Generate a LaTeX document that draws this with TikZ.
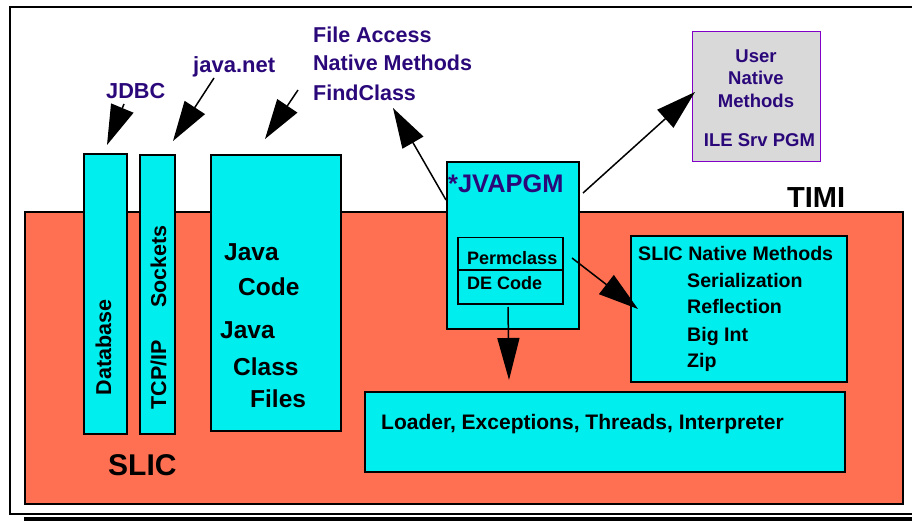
\documentclass[tikz,border=0pt]{standalone}
\usepackage{fontspec}
\setmainfont{Liberation Sans}
\usetikzlibrary{arrows.meta}
\definecolor{salmon}{RGB}{255,112,82}
\definecolor{cyanbox}{RGB}{0,238,238}
\definecolor{indigo}{RGB}{42,8,122}
\definecolor{violetb}{RGB}{128,0,200}
\definecolor{grayfill}{RGB}{217,217,217}
\newcommand{\fs}[1]{\fontsize{#1}{#1}\selectfont\bfseries}
\begin{document}
\begin{tikzpicture}[x=1pt,y=-1pt,
  cbox/.style={draw=black,line width=2pt,fill=cyanbox,rectangle,inner sep=0pt,anchor=north west},
  lbl/.style={inner sep=0pt,anchor=base west,text=indigo},
  blk/.style={inner sep=0pt,anchor=base west,text=black},
  arr/.style={line width=1.5pt,-{Triangle[length=40pt,width=24pt]}},
]
\useasboundingbox (0,0) rectangle (912,521);
% outer frame
\draw[line width=2pt] (912,7) -- (10,7) -- (10,514) -- (912,514);
\draw[line width=4pt] (24,519) -- (912,519);
% TIMI / SLIC area
\node[draw=black,line width=2pt,fill=salmon,inner sep=0pt,anchor=north west,
  minimum width=878pt,minimum height=292pt] (timi) at (24,211) {};
% columns
\node[cbox,minimum width=43pt,minimum height=280pt] (db) at (83,153) {};
\node[cbox,minimum width=35pt,minimum height=279pt] (tcp) at (139,154) {};
\node[cbox,minimum width=130pt,minimum height=276pt] (java) at (210,154) {};
\node[cbox,minimum width=132pt,minimum height=167pt] (jva) at (446,161) {};
\node[draw=black,line width=1.5pt,inner sep=0pt,anchor=north west,
  minimum width=105pt,minimum height=32pt] (perm) at (457,237) {};
\node[draw=black,line width=1.5pt,inner sep=0pt,anchor=north west,
  minimum width=105pt,minimum height=34pt] (de) at (457,269) {};
\node[cbox,minimum width=216pt,minimum height=146pt] (snm) at (630,235) {};
\node[cbox,minimum width=480pt,minimum height=80pt] (ldr) at (364,391) {};
\node[draw=violetb,line width=1.2pt,fill=grayfill,inner sep=0pt,anchor=north west,
  minimum width=128pt,minimum height=130pt] (user) at (692,31) {};
% texts
\node[rotate=90,inner sep=0pt,font=\fs{21.5}] (tdb) at (103.5,347.5) {Database};
\node[rotate=90,inner sep=0pt,font=\fs{21.5}] (ttcp) at (158.5,375) {TCP/IP};
\node[rotate=90,inner sep=0pt,font=\fs{21.5}] (tsock) at (158.5,266.5) {Sockets};
\node[blk,font=\fs{24.5}] (j1) at (224,260) {Java};
\node[blk,font=\fs{24.5}] (j2) at (238,295) {Code};
\node[blk,font=\fs{24.5}] (j3) at (220,338) {Java};
\node[blk,font=\fs{24.5}] (j4) at (233,375) {Class};
\node[blk,font=\fs{24.5}] (j5) at (250,407) {Files};
\node[lbl,font=\fs{21.7}] (jdbc) at (106,99) {JDBC};
\node[lbl,font=\fs{22}] (jnet) at (193,73) {java.net};
\node[lbl,font=\fs{21.5}] (fa) at (313,43) {File Access};
\node[lbl,font=\fs{21.5}] (nm) at (313,71) {Native Methods};
\node[lbl,font=\fs{21.5}] (fc) at (313,101) {FindClass};
\node[lbl,font=\fs{25.4}] (tjva) at (448,193) {*JVAPGM};
\node[blk,font=\fs{18}] (tperm) at (467,264) {Permclass};
\node[blk,font=\fs{18}] (tde) at (467,289) {DE Code};
\node[lbl,anchor=base,font=\fs{18.5}] (u1) at (756,63) {User};
\node[lbl,anchor=base,font=\fs{18.5}] (u2) at (756,85) {Native};
\node[lbl,anchor=base,font=\fs{18.5}] (u3) at (756,108) {Methods};
\node[lbl,anchor=base,font=\fs{18.5}] (u4) at (759.5,147) {ILE Srv PGM};
\node[blk,font=\fs{29}] (ttimi) at (787,208) {TIMI};
\node[blk,font=\fs{19.6}] (s0) at (638,261) {SLIC Native Methods};
\node[blk,font=\fs{19.6}] (s1) at (687,287) {Serialization};
\node[blk,font=\fs{19.6}] (s2) at (687,313) {Reflection};
\node[blk,font=\fs{19.6}] (s3) at (687,341) {Big Int};
\node[blk,font=\fs{19.6}] (s4) at (687,367) {Zip};
\node[blk,font=\fs{21}] (tldr) at (381,429) {Loader, Exceptions, Threads, Interpreter};
\node[blk,font=\fs{30}] (tslic) at (108,475) {SLIC};
% arrows
\coordinate (a1s) at (124,104); \coordinate (a1e) at (107,145);
\coordinate (a2s) at (214,78);  \coordinate (a2e) at (173,141);
\coordinate (a3s) at (298,90);  \coordinate (a3e) at (265,139);
\coordinate (a4s) at (446,200); \coordinate (a4e) at (393,108);
\coordinate (a5s) at (583,193); \coordinate (a5e) at (695,92);
\coordinate (a6s) at (572,258); \coordinate (a6e) at (638,309);
\coordinate (a7s) at (508,307); \coordinate (a7e) at (509,380);
\draw[arr] (a1s) -- (a1e);
\draw[arr] (a2s) -- (a2e);
\draw[arr] (a3s) -- (a3e);
\draw[arr] (a4s) -- (a4e);
\draw[arr] (a5s) -- (a5e);
\draw[arr] (a6s) -- (a6e);
\draw[line width=1.5pt,-{Triangle[length=42pt,width=22pt]}] (a7s) -- (a7e);
\end{tikzpicture}
\end{document}
